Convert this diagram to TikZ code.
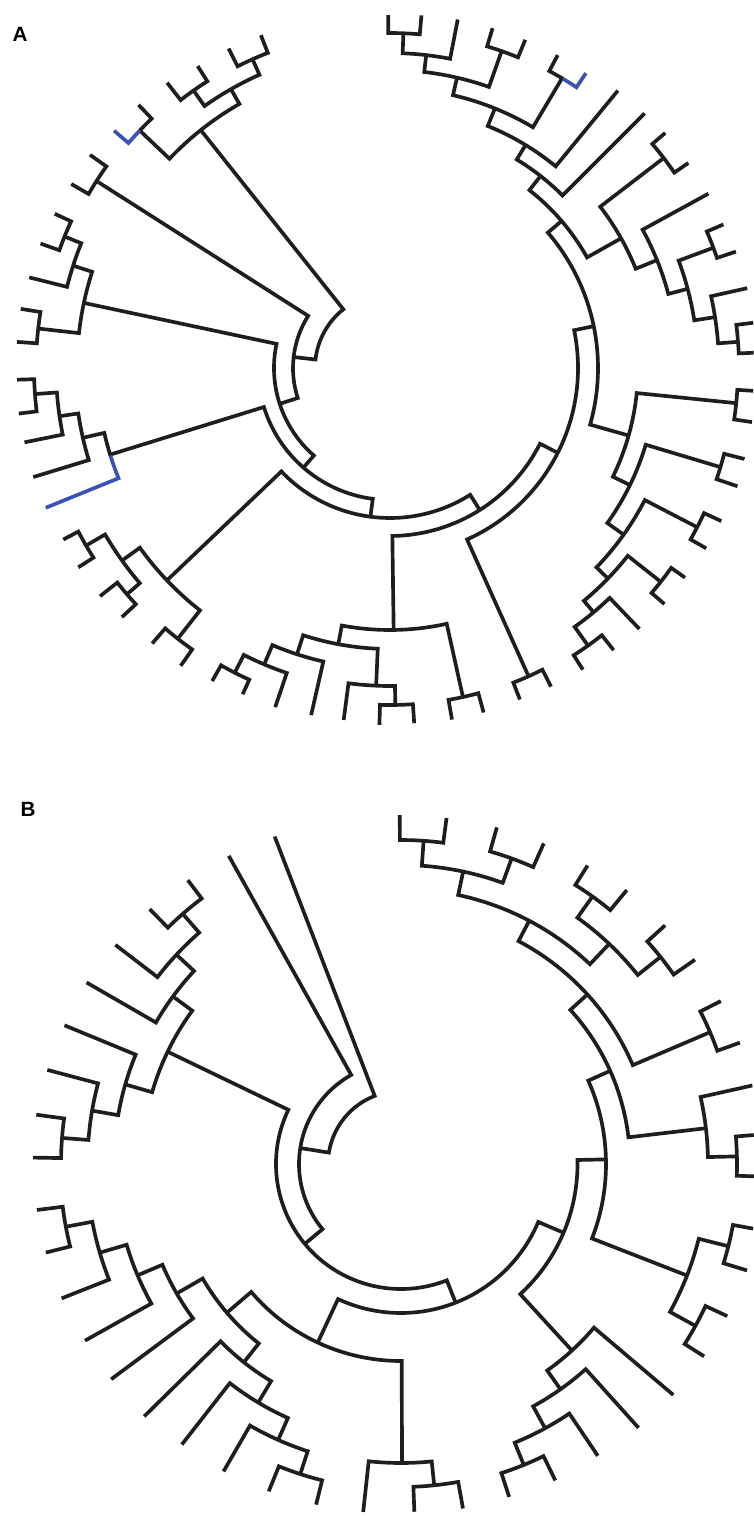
\documentclass[tikz,border=0pt]{standalone}
\usepackage{fontspec}
\setsansfont{Liberation Sans}
\definecolor{ink}{HTML}{1E1E1E}
\definecolor{treeblue}{HTML}{3A52B4}
\tikzset{br/.style={line width=2.75pt,draw=ink},
         bb/.style={line width=2.75pt,draw=treeblue},
         panellabel/.style={font=\sffamily\bfseries\fontsize{15.5}{15.5}\selectfont,text=black,inner sep=0pt}}
\newcommand\clade[5]{\draw[br] (#1:#4) -- (#1:#3) arc[start angle=#1,end angle=#2,radius=#3] -- (#2:#5);}
\begin{document}
\begin{tikzpicture}[x=0.75pt,y=-0.75pt]
\useasboundingbox (0,0) rectangle (753,1516);
\fill[white] (0,0) rectangle (753,1516);
\node[panellabel] (labA) at (20,34) {A};
\node[panellabel] (labB) at (28,809) {B};
% ---------------- Panel A ----------------
\begin{scope}[shift={(390,368)}]
% backbone
\clade{231.5}{186.5}{75}{304}{97}
\clade{212.5}{162}{97}{348}{116}
\clade{192}{131}{116}{313}{132}
\clade{162.8}{97.5}{132}{293}{150}
\clade{136.4}{57.7}{150}{308}{168}
\clade{89.2}{26.8}{168}{262}{188}
\clade{65.8}{-11.6}{188}{338}{208}
\clade{-40.6}{15.8}{208}{226}{248}
\clade{5.8}{26}{248}{348}{267}
\clade{16.7}{35.5}{267}{345}{287}
\clade{27.4}{44}{287}{346}{303}
\clade{38.3}{50.2}{303}{345}{318}
\clade{46.3}{54.5}{318}{361}{341}
% pairs on the backbone
\clade{215.4}{210}{348}{368}{368}
\clade{68.6}{63.2}{338}{356}{357}
\clade{3.6}{8.5}{348}{364}{366}
\clade{14.4}{18.8}{345}{366}{367}
\clade{24.8}{29.7}{346}{365}{364}
\clade{35.4}{40.7}{345}{362}{362}
\clade{51.6}{57.4}{341}{360}{358}
% N2 subtree (top left)
\clade{240.3}{223.5}{304}{321}{345}
\clade{246}{234.7}{321}{338}{340}
\clade{248.8}{243.2}{338}{357}{358}
\clade{237.5}{232}{340}{358}{362}
\draw[br] (226.3:364) -- (226.3:345) arc[start angle=226.3,end angle=223.5,radius=345];
\draw[bb] (223.5:345) arc[start angle=223.5,end angle=220.7,radius=345] -- (220.7:364);
% L3 subtree (left)
\clade{197.9}{186.4}{313}{333}{354}
\clade{189.1}{184}{354}{374}{374}
\clade{202}{194.1}{333}{351}{372}
\clade{204.7}{199.6}{351}{369}{371}
% L8 subtree (left)
\draw[br] (167.2:315) -- (167.2:293) arc[start angle=167.2,end angle=162.6,radius=293];
\draw[bb] (162.6:293) arc[start angle=162.6,end angle=157.9,radius=293] -- (157.9:371.5);
\clade{171.7}{163}{315}{334}{373}
\clade{175.8}{168.5}{334}{356}{373}
\clade{178.2}{173}{356}{373}{374}
% Q2 subtree (lower left)
\clade{144.3}{128.1}{308}{330}{344}
\clade{130.8}{125.1}{344}{364}{364}
\clade{149.7}{139.3}{330}{352}{347}
\clade{141.8}{137.1}{347}{369}{366}
\clade{152.3}{147.4}{352}{369}{370}
% bottom subtree
\clade{100.6}{77.5}{262}{281}{337}
\clade{80}{74.8}{337}{357}{357}
\clade{108}{92.5}{281}{301}{318}
\clade{97.5}{89.1}{318}{355}{337}
\clade{91.7}{86.1}{337}{357}{356}
\clade{113}{102.8}{301}{322}{356}
\clade{117}{108.7}{322}{342}{358}
\clade{119.6}{114.3}{342}{360}{358}
% top right subtree
\clade{-51.9}{-29.3}{226}{244}{265}
\clade{-58.7}{-45}{244}{261}{360}
\clade{-68}{-50.6}{261}{280}{359}
\clade{-77}{-59.3}{280}{298}{337}
\draw[br] (-61.8:355) -- (-61.8:337) arc[start angle=-61.8,end angle=-59.1,radius=337];
\draw[bb] (-59.1:337) arc[start angle=-59.1,end angle=-56.4,radius=337] -- (-56.4:354);
\clade{-83.4}{-70.6}{298}{315}{336}
\clade{-73.2}{-67.6}{336}{355}{355}
\clade{-87.7}{-79}{315}{335}{355}
\clade{-90.3}{-84.9}{335}{353}{354}
\clade{-37.5}{-22}{265}{345}{288}
\clade{-40.5}{-34.5}{345}{362}{362}
\clade{-28.7}{-14.9}{288}{363}{308}
\clade{-20.4}{-8.9}{308}{345}{329}
\clade{-23.3}{-18.6}{345}{363}{365}
\clade{-12.6}{-4.3}{329}{366}{349}
\clade{-7.1}{-2.4}{349}{366}{364}
\end{scope}
% ---------------- Panel B ----------------
\begin{scope}[shift={(401,1164)}]
% backbone
\clade{248.9}{189}{73}{351}{102}
\clade{240.8}{140.3}{102}{353}{125}
\clade{205.7}{68.5}{125}{259}{149}
\clade{115}{22.9}{149}{197}{176.5}
\clade{47.5}{-1.3}{176.5}{253}{205}
\clade{21.3}{-24}{205}{307}{229}
\clade{-6.7}{-42.3}{229}{307}{252}
\clade{-23.1}{-62.2}{252}{336}{275}
\clade{-46.6}{-78}{275}{303}{299}
% top right
\clade{-54.4}{-38.6}{303}{329}{332}
\clade{-58}{-50.5}{329}{352}{355}
\clade{-42.1}{-34.8}{332}{356}{358}
\clade{-86}{-70.1}{299}{324}{325}
\clade{-90.2}{-82.5}{324}{349}{349}
\clade{-74.1}{-66}{325}{350}{351}
\clade{-27}{-19.7}{336}{359}{360}
% right
\clade{14.1}{28.8}{307}{337.5}{336}
\clade{10.4}{17.1}{337.5}{358}{362}
\clade{25}{32.4}{336}{360}{359}
\clade{-12.6}{-1.3}{307}{360}{336}
\clade{-4.7}{2}{336}{354}{356}
% bottom right
\clade{40.3}{54.7}{253}{357}{276}
\clade{48}{61.4}{276}{355}{301}
\clade{56}{67.8}{301}{352}{325}
\clade{64}{72}{325}{352}{350}
% bottom
\clade{139.5}{89.8}{197}{229}{299}
\clade{96.2}{84.1}{299}{350}{323}
\clade{87.8}{79.8}{323}{348}{350}
% bottom left
\clade{150}{128.4}{229}{259}{253}
\clade{135.5}{120.9}{253}{360}{278}
\clade{128}{114}{278}{356}{302}
\clade{120}{108}{302}{355}{326}
\clade{112}{104}{326}{353}{351}
\clade{157.1}{143.4}{259}{286}{361}
\clade{163.6}{150.8}{286}{314}{362}
\clade{169.4}{158.4}{314}{341}{365}
\clade{172.8}{166}{341}{367}{366}
% upper left
\clade{196.1}{216.3}{259}{287}{283}
\clade{189.8}{202.4}{287}{313.5}{364}
\clade{184.4}{194.9}{313.5}{340}{366}
\clade{181}{187.7}{340}{368}{368}
\clade{210}{223}{283}{363}{307}
\clade{217.5}{228.9}{307}{360}{332}
\clade{225.4}{233.1}{332}{358}{355}
\end{scope}
\end{tikzpicture}
\end{document}
